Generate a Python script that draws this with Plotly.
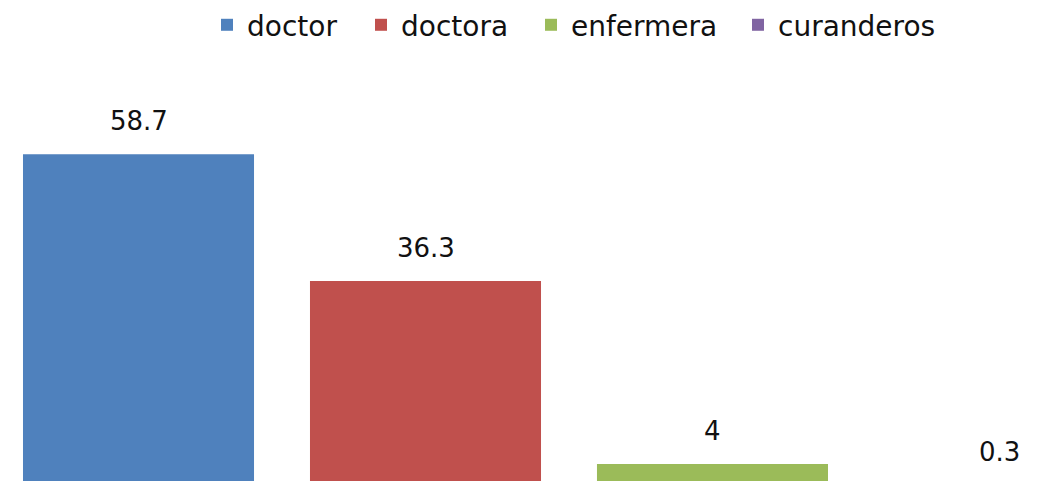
import plotly.graph_objects as go

# data
categories = ["doctor", "doctora", "enfermera", "curanderos"]
values = [58.7, 36.3, 4, 0.3]
colors = ["#4F81BD", "#C0504D", "#9BBB59", "#8064A2"]

FONT = "DejaVu Sans"
WIDTH, HEIGHT = 1052, 481
Y_RANGE = [1.02, 85.55]   # zero line sits just below the visible area
LABEL_GAP_PX = 33          # distance from bar top to label centre
# centres of the legend squares (px), one legend per series
legend_x_px = [227, 381, 551, 758]


def build_figure():
    fig = go.Figure()

    # one trace per category so each gets its own legend entry
    for i, (name, val, col) in enumerate(zip(categories, values, colors)):
        fig.add_trace(go.Bar(
            x=[i],
            y=[val],
            name=name,
            width=0.805,
            marker=dict(color=col, line=dict(width=0)),
            hoverinfo="name+y",
            legend="legend" if i == 0 else f"legend{i + 1}",
        ))

    # value labels above the bars (gap converted from px to data units)
    gap = LABEL_GAP_PX * (Y_RANGE[1] - Y_RANGE[0]) / HEIGHT
    for i, val in enumerate(values):
        fig.add_annotation(
            x=i, y=val + gap, text=f"{val:g}",
            showarrow=False, yanchor="middle",
            font=dict(family=FONT, size=26, color="#111111"),
        )

    legends = {}
    for i, cx in enumerate(legend_x_px):
        key = "legend" if i == 0 else f"legend{i + 1}"
        legends[key] = dict(
            orientation="h",
            x=(cx - 20) / WIDTH, xanchor="left",
            y=1.004, yanchor="top",
            font=dict(family=FONT, size=28, color="#111111"),
            bgcolor="rgba(0,0,0,0)",
            borderwidth=0,
        )

    fig.update_layout(
        width=WIDTH,
        height=HEIGHT,
        margin=dict(l=0, r=0, t=0, b=0),
        paper_bgcolor="white",
        plot_bgcolor="white",
        barmode="overlay",
        showlegend=True,
        xaxis=dict(range=[-0.4826, 3.183], visible=False, fixedrange=True),
        yaxis=dict(range=Y_RANGE, visible=False, fixedrange=True),
        **legends,
    )
    return fig


def main():
    fig = build_figure()
    fig.write_html(
        "out.html",
        config={"displayModeBar": False},
        post_script="document.body.style.margin='0';",
    )


if __name__ == "__main__":
    main()
